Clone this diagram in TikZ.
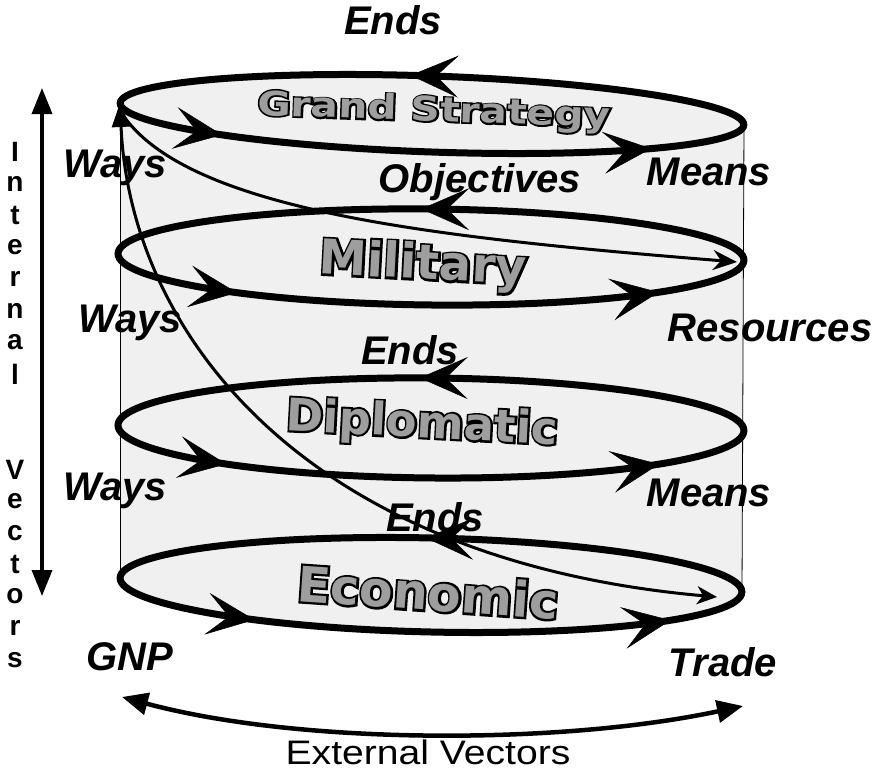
\documentclass[tikz,border=0pt]{standalone}
\usepackage{fontspec}
\setmainfont{Liberation Sans}
\newfontfamily\wafont{DejaVu Sans}
\newfontfamily\waout{DejaVu Sans}[BoldFeatures={FakeBold=9}]
\usetikzlibrary{arrows.meta,decorations.markings}
\tikzset{
  chevron/.tip={Stealth[length=48pt,width=42pt,inset=22pt,line width=0.5pt]},
  ring/.style={line width=7pt},
  marks/.style n args={3}{postaction={decorate,decoration={markings,
      mark=at position #1 with {\arrow{chevron}},
      mark=at position #2 with {\arrow{chevron}},
      mark=at position #3 with {\arrow{chevron}}}}},
  cylfill/.style={fill=black!6},
  side/.style={line width=0.8pt},
  lab/.style={font=\fontsize{40}{44}\selectfont\bfseries\itshape, inner sep=0pt},
  title/.style={inner sep=0pt},
  vlet/.style={font=\fontsize{28}{30}\selectfont\bfseries, inner sep=0pt},
  spiral/.style={line width=3pt},
  vec/.style={line width=3.5pt},
}
\newcommand{\wa}[1]{\rlap{\color{black}\waout\bfseries #1}\textcolor{black!38}{\wafont\bfseries #1}}
\begin{document}
\begin{tikzpicture}[x=1pt,y=1pt]
\useasboundingbox (0,0) rectangle (879,-771);
% centres of the rings
\coordinate (cG) at (432,-114);
\coordinate (cM) at (431,-257);
\coordinate (cD) at (431,-428);
\coordinate (cE) at (431,-585);
% cylinder corners
\coordinate (gl) at (120,-103);
\coordinate (gr) at (744,-125);
\coordinate (el) at (120,-578);
\coordinate (er) at (742,-592);
% cylinder body
\fill[cylfill] (gl) -- (el) -- (er) -- (gr) -- cycle;
\fill[cylfill, rotate around={-2:(cG)}] (cG) ellipse [x radius=312, y radius=38];
\fill[cylfill, rotate around={-1.3:(cE)}] (cE) ellipse [x radius=311, y radius=47];
\draw[side] (gl) -- (el);
\draw[side] (gr) -- (er);
% rings
\draw[ring, marks={0.268}{0.586}{0.923}, rotate around={-2:(cG)}] (cG) ellipse [x radius=312, y radius=38];
\draw[ring, marks={0.258}{0.600}{0.927}, rotate around={-0.6:(cM)}] (cM) ellipse [x radius=313, y radius=48];
\draw[ring, marks={0.259}{0.592}{0.927}, rotate around={-0.5:(cD)}] (cD) ellipse [x radius=313, y radius=50];
\draw[ring, marks={0.255}{0.613}{0.938}, rotate around={-1.3:(cE)}] (cE) ellipse [x radius=311, y radius=47];
% spiral connectors
\coordinate (sA) at (717,-597);
\coordinate (sB) at (120,-103);
\coordinate (mA) at (125,-118);
\coordinate (mB) at (737,-262);
\draw[spiral, {Stealth[length=20pt,width=18pt,inset=6pt]}-{Triangle[length=24pt,width=18pt]}]
  (sA) .. controls (300,-560) and (130,-330) .. (sB);
\draw[spiral, -{Stealth[length=24pt,width=20pt,inset=8pt]}]
  (mA) .. controls (195,-212) and (440,-238) .. (mB);
% titles
\node[title, rotate=-2, xscale=1.2] (tG) at (434,-112) {\fontsize{34}{38}\selectfont\wa{Grand Strategy}};
\node[title, rotate=-3] (tM) at (423,-266) {\fontsize{48}{52}\selectfont\wa{Military}};
\node[title, rotate=-3] (tD) at (422,-425) {\fontsize{45}{48}\selectfont\wa{Diplomatic}};
\node[title, rotate=-4] (tE) at (428,-592) {\fontsize{49}{52}\selectfont\wa{Economic}};
% labels
\node[lab] (endsG) at (393,-20) {Ends};
\node[lab] (waysG) at (115,-168) {Ways};
\node[lab] (obj) at (480,-182) {Objectives};
\node[lab] (meansG) at (709,-172) {Means};
\node[lab] (waysM) at (130,-323) {Ways};
\node[lab] (res) at (770,-328) {Resources};
\node[lab] (endsD) at (410,-350) {Ends};
\node[lab] (waysD) at (115,-491) {Ways};
\node[lab] (meansD) at (709,-493) {Means};
\node[lab] (endsE) at (435,-517) {Ends};
\node[lab] (gnp) at (130,-657) {GNP};
\node[lab] (trade) at (723,-662) {Trade};
% internal vectors
\coordinate (iT) at (42,-88);
\coordinate (iB) at (42,-596);
\draw[vec, {Triangle[length=26pt,width=20pt]}-{Triangle[length=26pt,width=20pt]}] (iT) -- (iB);
\foreach \ch/\k in {I/0,n/1,t/2,e/3,r/4,n/5,a/6,l/7,V/10,e/11,c/12,t/13,o/14,r/15,s/16}
  \node[vlet] (iv\k) at (15,{-152-31.75*\k}) {\ch};
% external vectors
\coordinate (eL) at (122,-697);
\coordinate (eR) at (743,-706);
\draw[vec, line width=4.5pt, {Triangle[length=26pt,width=22pt]}-{Triangle[length=26pt,width=22pt]}]
  (eL) .. controls (300,-745) and (560,-745) .. (eR);
\node[font=\fontsize{34}{38}\selectfont, inner sep=0pt, xscale=1.15] (ext) at (428,-752) {External Vectors};
\end{tikzpicture}
\end{document}
